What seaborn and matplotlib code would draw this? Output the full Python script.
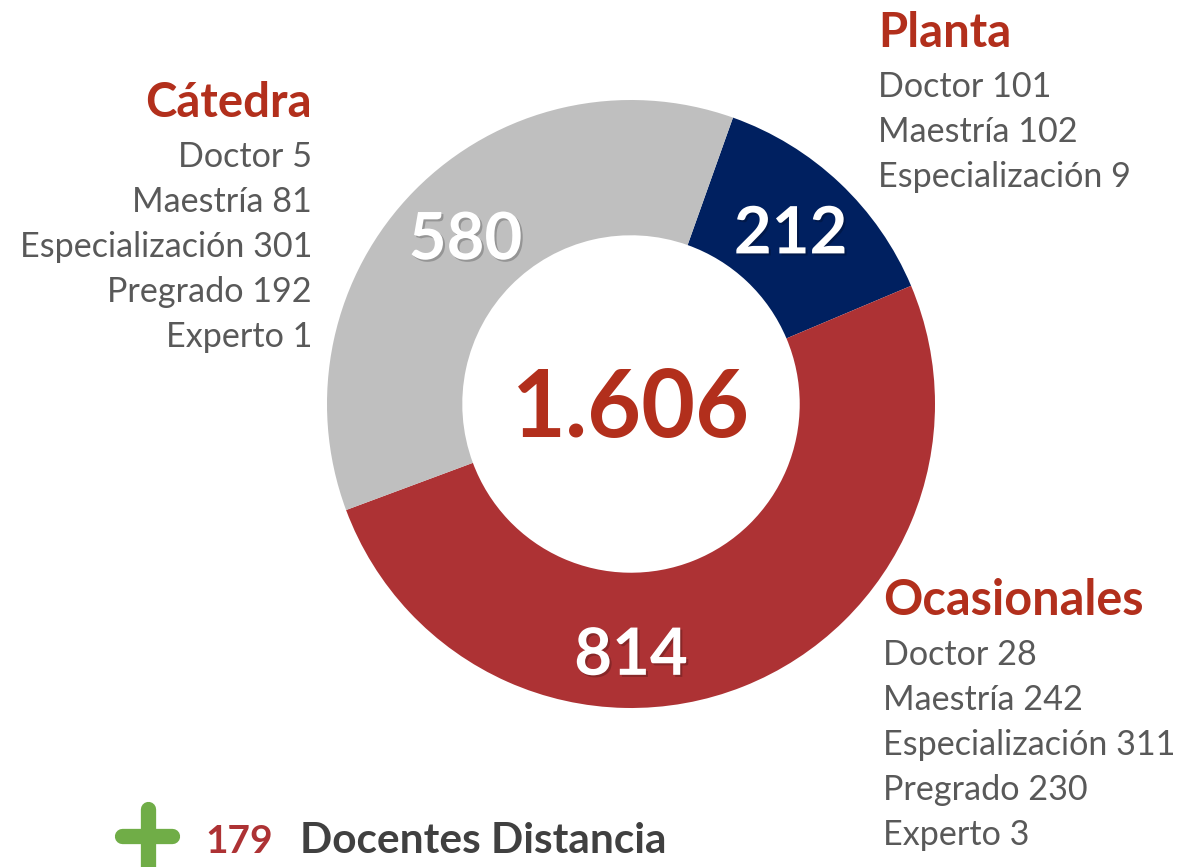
import matplotlib
matplotlib.use("Agg")
import numpy as np
import matplotlib.pyplot as plt
import matplotlib.patheffects as pe
from matplotlib.lines import Line2D
import seaborn as sns

# Donut totals (clockwise from the top-right)
categories = ["Planta", "Ocasionales", "Cátedra"]
totals = [212, 814, 580]
grand_total = "1.606"

# Breakdown by education level
planta_levels = ["Doctor", "Maestría", "Especialización"]
planta_counts = [101, 102, 9]
ocasionales_levels = ["Doctor", "Maestría", "Especialización", "Pregrado", "Experto"]
ocasionales_counts = [28, 242, 311, 230, 3]
catedra_levels = ["Doctor", "Maestría", "Especialización", "Pregrado", "Experto"]
catedra_counts = [5, 81, 301, 192, 1]

distancia_count = 179
distancia_label = "Docentes Distancia"

W, H = 1181, 867
RED_TITLE = "#B22F1C"
TEXT_GREY = "#595959"

sns.set_theme(style="white")
plt.rcParams['font.family'] = ['Lato', 'DejaVu Sans']

colors = sns.color_palette(["#002060", "#AD3234", "#BFBFBF"])


def px_text(fig, x, y, s, **kw):
    """Place text using pixel coordinates measured from the top-left."""
    return fig.text(x / W, 1 - y / H, s, **kw)


def draw_block(fig, x, y_title, title, levels, counts, ha, title_size=34):
    px_text(fig, x, y_title, title, ha=ha, va='baseline',
            fontsize=title_size, fontweight='bold', color=RED_TITLE)
    for i, (lvl, n) in enumerate(zip(levels, counts)):
        px_text(fig, x, y_title + 50 + 45 * i, f"{lvl} {n}", ha=ha, va='baseline',
                fontsize=24.6, color=TEXT_GREY)


fig = plt.figure(figsize=(W / 100, H / 100), dpi=100)
fig.patch.set_facecolor("white")

cx, cy, r = 631, 404, 304
ax = fig.add_axes([(cx - r) / W, (H - cy - r) / H, 2 * r / W, 2 * r / H])
wedges, _ = ax.pie(totals, colors=colors, startangle=70.4, counterclock=False,
                   radius=1, wedgeprops=dict(width=0.445, edgecolor='none'))
ax.set_xlim(-1, 1)
ax.set_ylim(-1, 1)
ax.axis('off')

shadow = [pe.withSimplePatchShadow(offset=(1.5, -1.5), shadow_rgbFace='black', alpha=0.22)]

# value labels inside the ring
for i, w in enumerate(wedges):
    if categories[i] == "Ocasionales":
        ang = -90
        rr = 0.83
    else:
        ang = (w.theta1 + w.theta2) / 2
        rr = 0.765
    ax.text(rr * np.cos(np.radians(ang)), rr * np.sin(np.radians(ang)), str(totals[i]),
            ha='center', va='center', fontsize=47, fontweight='bold', color='white',
            path_effects=shadow)

ax.text(0, -0.02, grand_total, ha='center', va='center', fontsize=67,
        fontweight='bold', color=RED_TITLE)

# side blocks
draw_block(fig, 312, 117, "Cátedra", catedra_levels, catedra_counts, 'right')
draw_block(fig, 878, 47, "Planta", planta_levels, planta_counts, 'left')
draw_block(fig, 883, 615, "Ocasionales", ocasionales_levels, ocasionales_counts, 'left',
           title_size=35)

# bottom note with green plus (drawn as two round-capped strokes)
plus_kw = dict(transform=fig.transFigure, color="#70AD47", linewidth=11,
               solid_capstyle='round')
fig.add_artist(Line2D([122 / W, 172 / W], [1 - 835.5 / H, 1 - 835.5 / H], **plus_kw))
fig.add_artist(Line2D([147.5 / W, 147.5 / W], [1 - 809 / H, 1 - 890 / H], **plus_kw))

px_text(fig, 205, 853, str(distancia_count), ha='left', va='baseline',
        fontsize=28, fontweight='bold', color="#AD3234")
px_text(fig, 300, 853, distancia_label, ha='left', va='baseline',
        fontsize=30.5, fontweight='bold', color="#404040")

fig.savefig("out.png", dpi=100)
